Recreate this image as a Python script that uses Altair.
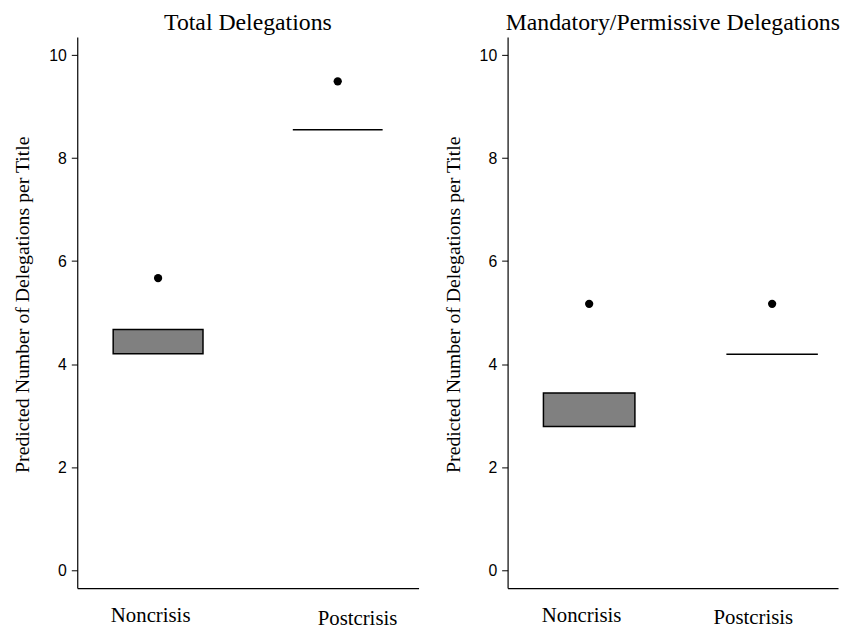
import altair as alt
import pandas as pd

conditions = ["Noncrisis", "Postcrisis"]

total_lower = [4.20, 8.55]
total_upper = [4.67, 8.55]
total_point = [5.67, 9.49]

mp_lower = [2.79, 4.19]
mp_upper = [3.44, 4.19]
mp_point = [5.17, 5.17]

y_ticks = [0, 2, 4, 6, 8, 10]
y_title = "Predicted Number of Delegations per Title"

SERIF = "Liberation Serif"
SANS = "Liberation Sans"


def panel(title, lower, upper, point, width, pad_outer, align, off_non, off_post, pad_post):
    df = pd.DataFrame({"condition": conditions, "lower": lower, "upper": upper, "point": point})
    is_non = "datum.value === 'Noncrisis'"
    x = alt.X(
        "condition:N",
        sort=conditions,
        title=None,
        scale=alt.Scale(paddingInner=0.5, paddingOuter=pad_outer, align=align),
        axis=alt.Axis(
            labelAngle=0,
            ticks=False,
            tickSize=0,
            labelFont=SERIF,
            labelFontSize=21,
            labelColor="black",
            domainColor="black",
            domainWidth=1.2,
            grid=False,
            labelOffset={"condition": {"test": is_non, "value": off_non}, "value": off_post},
            labelPadding={"condition": {"test": is_non, "value": 17}, "value": pad_post},
        ),
    )
    y_scale = alt.Scale(domain=[-0.35, 10.35], nice=False, zero=False)
    y_axis = alt.Axis(
        values=y_ticks,
        title=y_title,
        titleFont=SERIF,
        titleFontSize=20,
        titleFontWeight="normal",
        titleColor="black",
        titlePadding=16,
        titleY=270,
        labelFont=SANS,
        labelFontSize=16,
        labelColor="black",
        labelPadding=5,
        tickSize=6,
        tickColor="black",
        domainColor="black",
        domainWidth=1.2,
        grid=False,
    )
    base = alt.Chart(df)
    boxes = base.mark_bar(fill="#808080", stroke="black", strokeWidth=1.5).encode(
        x=x,
        y=alt.Y("lower:Q", scale=y_scale, axis=y_axis),
        y2="upper:Q",
    )
    points = base.mark_circle(color="black", size=70, opacity=1).encode(
        x=x,
        y=alt.Y("point:Q", scale=y_scale, axis=y_axis),
    )
    return alt.layer(boxes, points).properties(
        width=width,
        height=557,
        title=alt.TitleParams(title, font=SERIF, fontSize=24, fontWeight="normal", color="black", offset=2),
    )


left = panel("Total Delegations", total_lower, total_upper, total_point,
             345, 0.2, 0.5, -7.5, 20, 19.5)
right = panel("Mandatory/Permissive Delegations", mp_lower, mp_upper, mp_point,
              334, 0.153, 0.64, -7.6, -19, 19)

chart = alt.hconcat(left, right, spacing=25).properties(
    padding={"left": 5, "top": 0, "right": 0, "bottom": 0},
    background="white",
).configure_view(stroke=None)

chart.save("out.html", embed_options={"renderer": "svg", "actions": False})
